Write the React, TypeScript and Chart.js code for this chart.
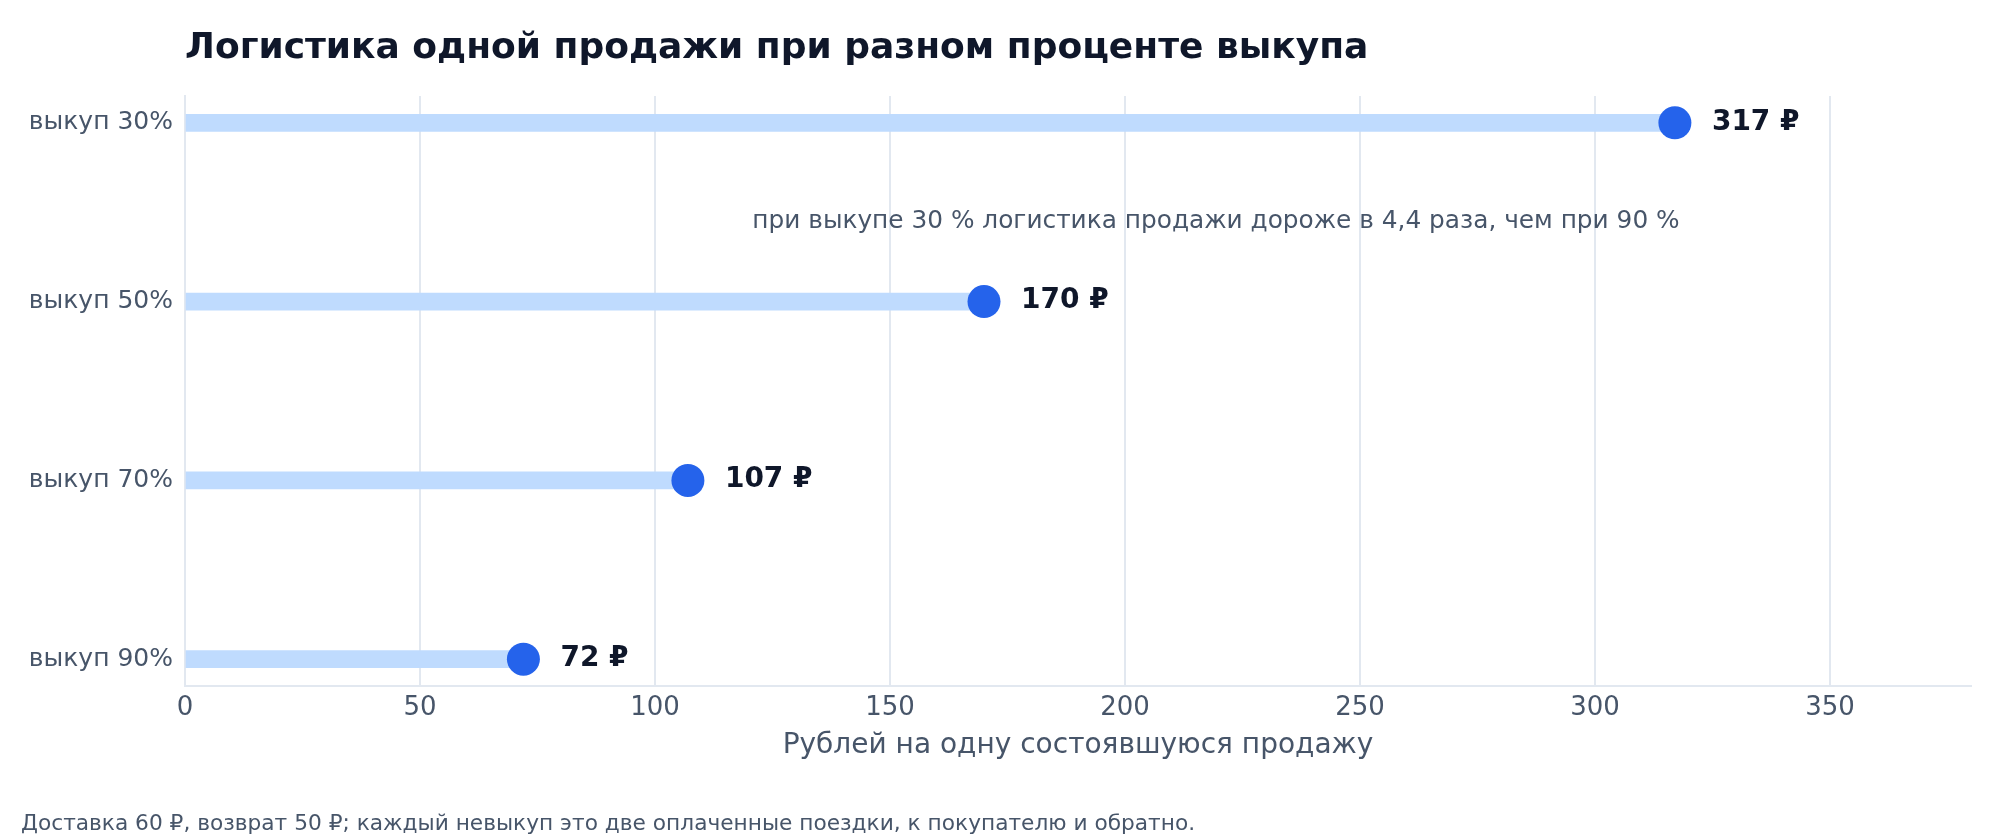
import React, { useEffect, useRef } from "react";
import { Chart, registerables } from "chart.js";

Chart.register(...registerables);

const TITLE = "Логистика одной продажи при разном проценте выкупа";
const CATEGORIES = ["выкуп 30%", "выкуп 50%", "выкуп 70%", "выкуп 90%"];
const COST_PER_SALE = [317, 170, 107, 72];
const X_TICKS = [0, 50, 100, 150, 200, 250, 300, 350];
const X_MIN = 0;
const X_MAX = 380;
const X_TITLE = "Рублей на одну состоявшуюся продажу";
const CURRENCY = "₽";
const ANNOTATION = "при выкупе 30 % логистика продажи дороже в 4,4 раза, чем при 90 %";
const ANNOTATION_X = 318;
const ANNOTATION_Y = 0.55;
const FOOTNOTE =
  "Доставка 60 ₽, возврат 50 ₽; каждый невыкуп это две оплаченные поездки, к покупателю и обратно.";

const FONT = '"DejaVu Sans", sans-serif';
const C_DARK = "#0F172A";
const C_TEXT = "#475569";
const C_GRID = "#E2E8F0";
const C_STEM = "#BFDBFE";
const C_DOT = "#2563EB";

const textPlugin = {
  id: "extraTexts",
  afterDatasetsDraw(chart: any) {
    const { ctx, chartArea, scales } = chart;
    ctx.save();
    // value labels
    const meta = chart.getDatasetMeta(1);
    ctx.font = `bold 28px ${FONT}`;
    ctx.fillStyle = C_DARK;
    ctx.textAlign = "left";
    ctx.textBaseline = "middle";
    meta.data.forEach((pt: any, i: number) => {
      ctx.fillText(`${COST_PER_SALE[i]} ${CURRENCY}`, pt.x + 37, pt.y - 0.5);
    });
    // annotation
    ctx.font = `24.8px ${FONT}`;
    ctx.fillStyle = C_TEXT;
    ctx.textAlign = "right";
    ctx.fillText(
      ANNOTATION,
      scales.x.getPixelForValue(ANNOTATION_X),
      scales.y.getPixelForValue(ANNOTATION_Y)
    );
    // title
    ctx.font = `bold 36px ${FONT}`;
    ctx.fillStyle = C_DARK;
    ctx.textAlign = "left";
    ctx.textBaseline = "alphabetic";
    ctx.fillText(TITLE, chartArea.left, 58);
    // footnote
    ctx.font = `21.7px ${FONT}`;
    ctx.fillStyle = C_TEXT;
    ctx.fillText(FOOTNOTE, 21, 830);
    ctx.restore();
  },
};

export default function App() {
  const ref = useRef<HTMLCanvasElement | null>(null);

  useEffect(() => {
    if (!ref.current) return;
    const points = COST_PER_SALE.map((v, i) => ({ x: v, y: i }));
    const chart = new Chart(ref.current, {
      type: "bar",
      data: {
        datasets: [
          {
            type: "bar",
            data: points,
            backgroundColor: C_STEM,
            borderWidth: 0,
            barThickness: 17,
            order: 2,
          } as any,
          {
            type: "scatter",
            data: points,
            backgroundColor: C_DOT,
            borderWidth: 0,
            pointRadius: 16.5,
            pointHoverRadius: 16.5,
            order: 1,
          } as any,
        ],
      },
      options: {
        indexAxis: "y",
        animation: false,
        responsive: true,
        maintainAspectRatio: false,
        devicePixelRatio: 1,
        layout: { padding: { top: 96, right: 29, left: 0, bottom: 0 } },
        plugins: {
          legend: { display: false },
          tooltip: { enabled: false },
        },
        scales: {
          x: {
            type: "linear",
            min: X_MIN,
            max: X_MAX,
            offset: false,
            afterBuildTicks: (s: any) => {
              s.ticks = X_TICKS.map((v) => ({ value: v }));
            },
            afterFit: (s: any) => {
              s.height = 154;
            },
            grid: { color: C_GRID, lineWidth: 2, drawTicks: false, offset: false },
            border: { display: true, color: C_GRID, width: 2 },
            ticks: {
              font: { family: FONT, size: 26 },
              color: C_TEXT,
              padding: 7,
              maxRotation: 0,
            },
            title: {
              display: true,
              text: X_TITLE,
              font: { family: FONT, size: 28 },
              color: C_TEXT,
              padding: { top: 0, bottom: 77 },
            },
          },
          y: {
            type: "linear",
            reverse: true,
            offset: false,
            min: -0.15,
            max: CATEGORIES.length - 1 + 0.15,
            afterBuildTicks: (s: any) => {
              s.ticks = CATEGORIES.map((_, i) => ({ value: i }));
            },
            afterFit: (s: any) => {
              s.width = 185;
            },
            grid: { display: false, drawTicks: false, offset: false },
            border: { display: true, color: C_GRID, width: 2 },
            ticks: {
              font: { family: FONT, size: 25 },
              color: C_TEXT,
              padding: 12,
              callback: (v: any) => CATEGORIES[v] ?? "",
            },
          },
        },
      } as any,
      plugins: [textPlugin],
    });
    return () => chart.destroy();
  }, []);

  return (
    <div
      style={{
        position: "fixed",
        left: 0,
        top: 0,
        width: 2000,
        height: 840,
        background: "#ffffff",
      }}
    >
      <canvas ref={ref} style={{ display: "block" }} />
    </div>
  );
}
